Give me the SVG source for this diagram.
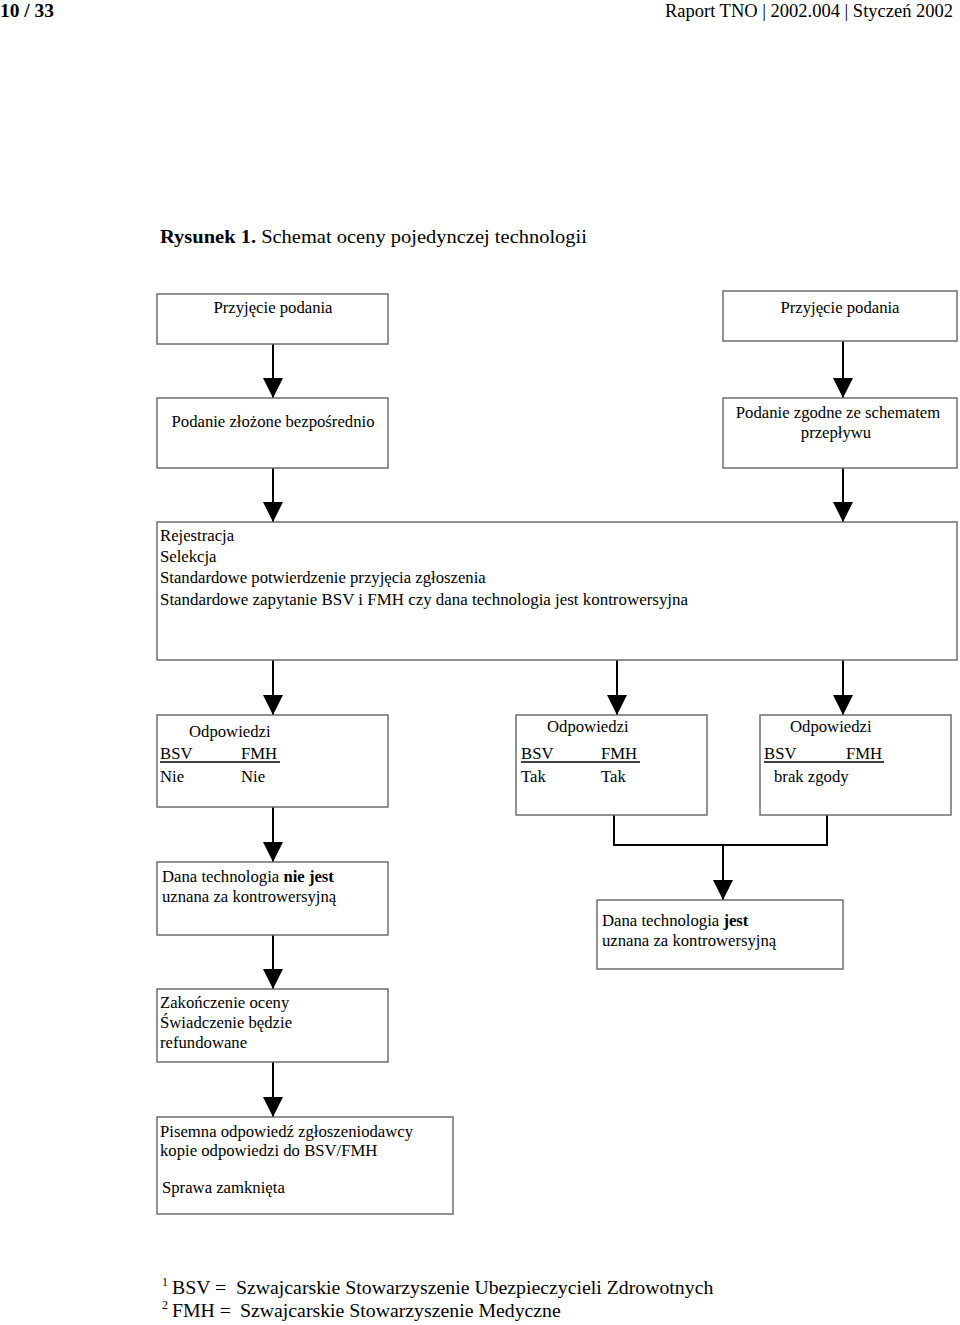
<svg xmlns="http://www.w3.org/2000/svg" width="960" height="1325" viewBox="0 0 960 1325">
<style>
text{font-family:"Liberation Serif","Times New Roman",serif;fill:#000}
.t{font-size:16.7px}
.c{text-anchor:middle}
.box{fill:#fff;stroke:#6e6e6e;stroke-width:1.5}
.ln{stroke:#000;stroke-width:2;fill:none}
.ul{stroke:#000;stroke-width:1.5}
</style>
<defs>
<marker id="ah" viewBox="0 0 20 20" refX="20" refY="10" markerWidth="20" markerHeight="20" orient="auto" markerUnits="userSpaceOnUse">
<path d="M0,0 L20,10 L0,20 z" fill="#000"/>
</marker>
</defs>
<rect width="960" height="1325" fill="#fff"/>
<text x="0" y="17" font-size="19" font-weight="bold" textLength="54" lengthAdjust="spacingAndGlyphs">10 / 33</text>
<text x="953" y="17" font-size="19" text-anchor="end" textLength="288" lengthAdjust="spacingAndGlyphs">Raport TNO | 2002.004 | Styczeń 2002</text>
<text x="160" y="243" font-size="19" textLength="427" lengthAdjust="spacingAndGlyphs"><tspan font-weight="bold">Rysunek 1.</tspan> Schemat oceny pojedynczej technologii</text>

<g id="connectors">
<line class="ln" x1="273" y1="344" x2="273" y2="398" marker-end="url(#ah)"/>
<line class="ln" x1="843" y1="341" x2="843" y2="398" marker-end="url(#ah)"/>
<line class="ln" x1="273" y1="468" x2="273" y2="522" marker-end="url(#ah)"/>
<line class="ln" x1="843" y1="468" x2="843" y2="522" marker-end="url(#ah)"/>
<line class="ln" x1="273" y1="660" x2="273" y2="715" marker-end="url(#ah)"/>
<line class="ln" x1="617" y1="660" x2="617" y2="715" marker-end="url(#ah)"/>
<line class="ln" x1="843" y1="660" x2="843" y2="715" marker-end="url(#ah)"/>
<line class="ln" x1="273" y1="807" x2="273" y2="862" marker-end="url(#ah)"/>
<polyline class="ln" points="614,815 614,845 827,845 827,815"/>
<line class="ln" x1="723" y1="845" x2="723" y2="900" marker-end="url(#ah)"/>
<line class="ln" x1="273" y1="935" x2="273" y2="989" marker-end="url(#ah)"/>
<line class="ln" x1="273" y1="1062" x2="273" y2="1117" marker-end="url(#ah)"/>
</g>

<g id="n1">
<rect class="box" x="157" y="294" width="231" height="50"/>
<text class="t c" x="273" y="313">Przyjęcie podania</text>
</g>
<g id="n2">
<rect class="box" x="723" y="291" width="234" height="50"/>
<text class="t c" x="840" y="313">Przyjęcie podania</text>
</g>
<g id="n3">
<rect class="box" x="157" y="398" width="231" height="70"/>
<text class="t c" x="273" y="427">Podanie złożone bezpośrednio</text>
</g>
<g id="n4">
<rect class="box" x="723" y="398" width="234" height="70"/>
<text class="t c" x="838" y="418">Podanie zgodne ze schematem</text>
<text class="t c" x="836" y="438">przepływu</text>
</g>
<g id="n5">
<rect class="box" x="157" y="522" width="800" height="138"/>
<text class="t" x="160" y="541">Rejestracja</text>
<text class="t" x="160" y="562">Selekcja</text>
<text class="t" x="160" y="583">Standardowe potwierdzenie przyjęcia zgłoszenia</text>
<text class="t" x="160" y="605" textLength="528" lengthAdjust="spacingAndGlyphs">Standardowe zapytanie BSV i FMH czy dana technologia jest kontrowersyjna</text>
</g>
<g id="n6">
<rect class="box" x="157" y="715" width="231" height="92"/>
<text class="t" x="189" y="737">Odpowiedzi</text>
<text class="t" x="160" y="759">BSV</text>
<text class="t" x="241" y="759">FMH</text>
<line class="ul" x1="160" y1="762" x2="280" y2="762"/>
<text class="t" x="160" y="782">Nie</text>
<text class="t" x="241" y="782">Nie</text>
</g>
<g id="n7">
<rect class="box" x="516" y="715" width="191" height="100"/>
<text class="t" x="547" y="732">Odpowiedzi</text>
<text class="t" x="521" y="759">BSV</text>
<text class="t" x="601" y="759">FMH</text>
<line class="ul" x1="521" y1="762" x2="640" y2="762"/>
<text class="t" x="521" y="782">Tak</text>
<text class="t" x="601" y="782">Tak</text>
</g>
<g id="n8">
<rect class="box" x="760" y="715" width="191" height="100"/>
<text class="t" x="790" y="732">Odpowiedzi</text>
<text class="t" x="764" y="759">BSV</text>
<text class="t" x="846" y="759">FMH</text>
<line class="ul" x1="764" y1="762" x2="884" y2="762"/>
<text class="t" x="774" y="782">brak zgody</text>
</g>
<g id="n9">
<rect class="box" x="157" y="862" width="231" height="73"/>
<text class="t" x="162" y="882">Dana technologia <tspan font-weight="bold">nie jest</tspan></text>
<text class="t" x="162" y="902">uznana za kontrowersyjną</text>
</g>
<g id="n10">
<rect class="box" x="597" y="900" width="246" height="69"/>
<text class="t" x="602" y="926">Dana technologia <tspan font-weight="bold">jest</tspan></text>
<text class="t" x="602" y="946">uznana za kontrowersyjną</text>
</g>
<g id="n11">
<rect class="box" x="157" y="989" width="231" height="73"/>
<text class="t" x="160" y="1008">Zakończenie oceny</text>
<text class="t" x="160" y="1028">Świadczenie będzie</text>
<text class="t" x="160" y="1048">refundowane</text>
</g>
<g id="n12">
<rect class="box" x="157" y="1117" width="296" height="97"/>
<text class="t" x="160" y="1137">Pisemna odpowiedź zgłoszeniodawcy</text>
<text class="t" x="160" y="1156">kopie odpowiedzi do BSV/FMH</text>
<text class="t" x="162" y="1193">Sprawa zamknięta</text>
</g>

<text x="162" y="1286" font-size="12">1</text>
<text x="172" y="1294" font-size="19.8">BSV =<tspan x="236">Szwajcarskie Stowarzyszenie Ubezpieczycieli Zdrowotnych</tspan></text>
<text x="162" y="1309" font-size="12">2</text>
<text x="172" y="1317" font-size="19.8">FMH =<tspan x="240">Szwajcarskie Stowarzyszenie Medyczne</tspan></text>
</svg>
